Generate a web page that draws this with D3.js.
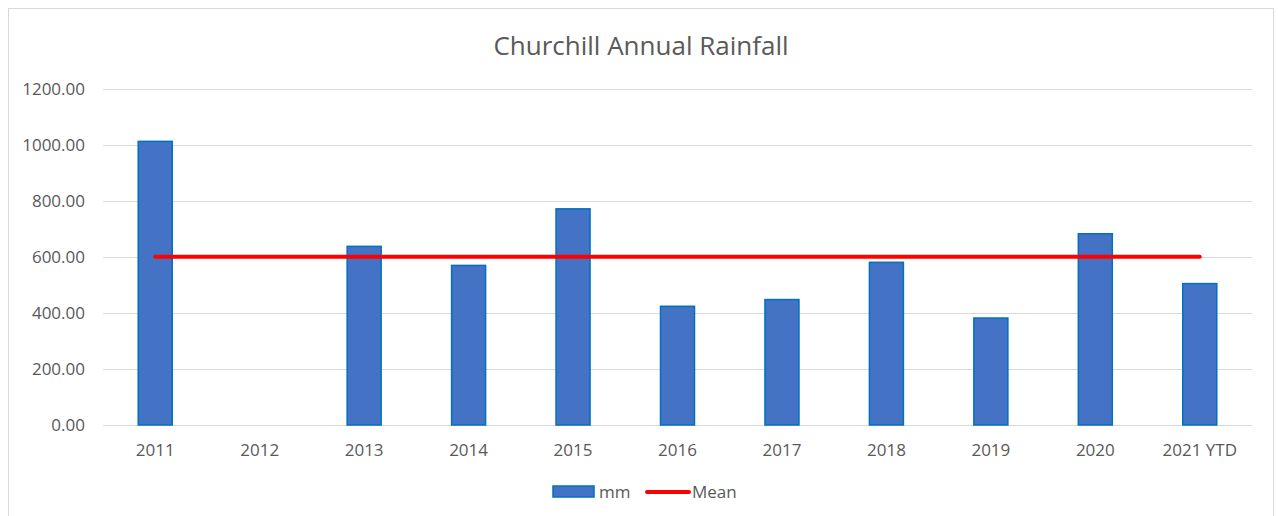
<!DOCTYPE html>
<html>
<head>
<meta charset="utf-8">
<script src="https://cdn.jsdelivr.net/npm/d3@7"></script>
<style>
  html, body { margin: 0; padding: 0; background: #fff; }
  svg { display: block; font-family: "Open Sans", "Liberation Sans", sans-serif; }
</style>
</head>
<body>
<svg id="chart" width="1278" height="516"></svg>
<script>
const categories = ["2011", "2012", "2013", "2014", "2015", "2016", "2017", "2018", "2019", "2020", "2021 YTD"];
const rainfall = [1013, null, 638, 570, 772, 424, 448, 581, 382, 683, 505];
const meanValue = [601, 601, 601, 601, 601, 601, 601, 601, 601, 601, 601];
const yTicks = [0, 200, 400, 600, 800, 1000, 1200];
const title = "Churchill Annual Rainfall";
const seriesNames = ["mm", "Mean"];

const svg = d3.select("#chart");
const m = { left: 103, right: 1252, top: 89, bottom: 425 };
const FONT = "'Open Sans', 'Liberation Sans', sans-serif";

// chart border
svg.append("rect").attr("x", 8.5).attr("y", 8.5).attr("width", 1265).attr("height", 520)
  .attr("fill", "#fff").attr("stroke", "#d9d9d9").attr("stroke-width", 1);

const x = d3.scaleBand().domain(categories).range([m.left, m.right]).paddingInner(0).paddingOuter(0);
const y = d3.scaleLinear().domain([0, 1200]).range([m.bottom, m.top]);

// gridlines
svg.append("g").selectAll("line").data(yTicks).join("line")
  .attr("x1", m.left).attr("x2", m.right)
  .attr("y1", d => Math.round(y(d)) + 0.5).attr("y2", d => Math.round(y(d)) + 0.5)
  .attr("stroke", "#d9d9d9").attr("stroke-width", 1);

// y axis labels
const yAxis = d3.axisLeft(y).tickValues(yTicks).tickFormat(d3.format(".2f")).tickSize(0).tickPadding(0);
const gy = svg.append("g").attr("transform", `translate(${m.left - 18},0)`).call(yAxis);
gy.select(".domain").remove();
gy.selectAll("text").attr("fill", "#595959").attr("dy", "0.33em").style("font-size", "17px")
  .style("font-family", FONT);

// x axis labels
const xAxis = d3.axisBottom(x).tickSize(0).tickPadding(0);
const gx = svg.append("g").attr("transform", `translate(0,${m.bottom})`).call(xAxis);
gx.select(".domain").remove();
gx.selectAll("text").attr("fill", "#595959").attr("dy", null).attr("y", 31).style("font-size", "17px")
  .style("font-family", FONT);

// bars
const barW = 34;
const barData = categories.map((c, i) => ({ c, v: rainfall[i] })).filter(d => d.v != null);
svg.append("g").selectAll("rect").data(barData).join("rect")
  .attr("x", d => x(d.c) + x.bandwidth() / 2 - barW / 2)
  .attr("y", d => y(d.v))
  .attr("width", barW)
  .attr("height", d => y(0) - y(d.v))
  .attr("fill", "#4472C4")
  .attr("stroke", "#0070C0")
  .attr("stroke-width", 1.5);

// mean line
const line = d3.line().x((d, i) => x(categories[i]) + x.bandwidth() / 2).y(d => y(d));
svg.append("path").datum(meanValue).attr("d", line)
  .attr("fill", "none").attr("stroke", "#FF0000").attr("stroke-width", 4).attr("stroke-linecap", "round");

// title
svg.append("text").attr("x", 641).attr("y", 55).attr("text-anchor", "middle")
  .attr("fill", "#595959").style("font-size", "26px").text(title);

// legend
const lg = svg.append("g");
lg.append("rect").attr("x", 553).attr("y", 486).attr("width", 41).attr("height", 11)
  .attr("fill", "#4472C4").attr("stroke", "#0070C0").attr("stroke-width", 1.5);
lg.append("text").attr("x", 599).attr("y", 498).attr("fill", "#595959").style("font-size", "17px").text(seriesNames[0]);
lg.append("line").attr("x1", 647).attr("x2", 689).attr("y1", 492).attr("y2", 492)
  .attr("stroke", "#FF0000").attr("stroke-width", 4).attr("stroke-linecap", "round");
lg.append("text").attr("x", 692).attr("y", 498).attr("fill", "#595959").style("font-size", "17px").text(seriesNames[1]);
</script>
</body>
</html>
